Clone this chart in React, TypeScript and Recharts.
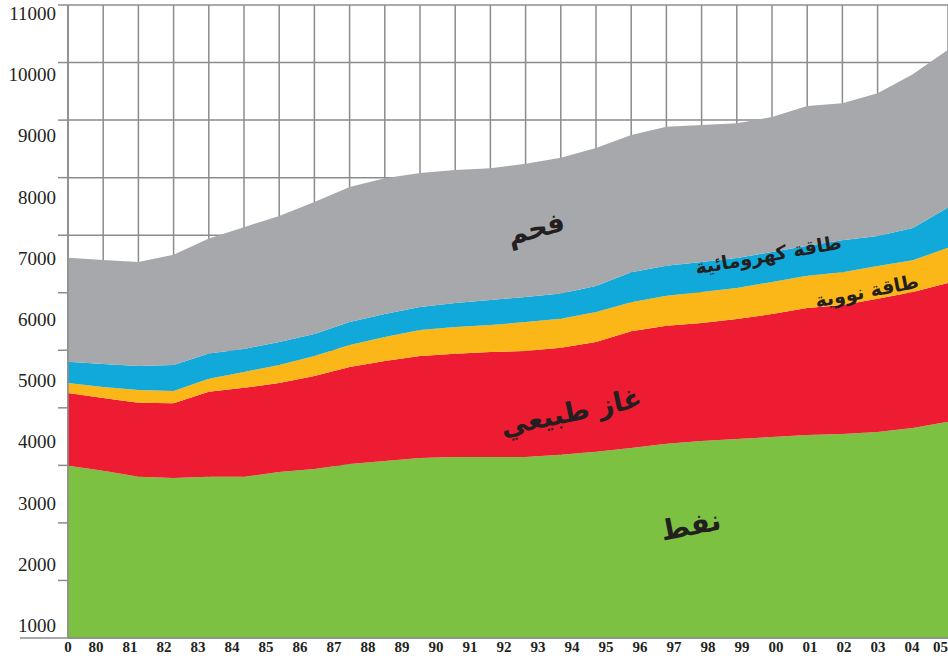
import React from "react";
import {
  AreaChart,
  Area,
  XAxis,
  YAxis,
  CartesianGrid,
  ReferenceDot,
} from "recharts";

const YEARS = [
  1980, 1981, 1982, 1983, 1984, 1985, 1986, 1987, 1988, 1989, 1990, 1991, 1992,
  1993, 1994, 1995, 1996, 1997, 1998, 1999, 2000, 2001, 2002, 2003, 2004, 2005,
];

// million tonnes oil equivalent
const OIL = [
  3600, 3520, 3420, 3400, 3420, 3420, 3500, 3550, 3630, 3680, 3730, 3745, 3745,
  3745, 3780, 3830, 3890, 3960, 4005, 4040, 4070, 4105, 4120, 4155, 4220, 4320,
];
const GAS = [
  1190, 1190, 1210, 1225, 1390, 1455, 1455, 1520, 1585, 1635, 1665, 1685, 1715,
  1730, 1750, 1795, 1910, 1930, 1930, 1960, 2010, 2075, 2110, 2175, 2220, 2270,
];
const NUCLEAR = [
  165, 180, 210, 200, 215, 260, 295, 325, 360, 390, 425, 440, 440, 475, 475,
  490, 475, 490, 505, 505, 525, 525, 535, 535, 520, 575,
];
const HYDRO = [
  345, 375, 390, 425, 410, 375, 375, 360, 375, 375, 375, 390, 410, 410, 410,
  425, 490, 490, 490, 490, 490, 490, 520, 490, 525, 655,
];
const COAL = [
  1700, 1700, 1700, 1800, 1880, 1990, 2060, 2155, 2205, 2220, 2190, 2175, 2155,
  2175, 2220, 2255, 2240, 2270, 2240, 2205, 2205, 2285, 2240, 2335, 2515, 2580,
];

const Y_TICKS = [1000, 2000, 3000, 4000, 5000, 6000, 7000, 8000, 9000, 10000, 11000];
// the x labels sit on their own (slightly offset) scale in the original
const X_LABEL_START = 1979.18;
const X_TICKS = [
  X_LABEL_START, 1980, 1981, 1982, 1983, 1984, 1985, 1986, 1987, 1988, 1989,
  1990, 1991, 1992, 1993, 1994, 1995, 1996, 1997, 1998, 1999, 2000, 2001, 2002,
  2003, 2004, 2005,
];
// background grid, independent of the value scale
const GRID_ROWS = [0, 1, 2, 3, 4, 5, 6, 7, 8, 9, 10, 11];
const GRID_COLS = [
  0, 1, 2, 3, 4, 5, 6, 7, 8, 9, 10, 11, 12, 13, 14, 15, 16, 17, 18, 19, 20, 21,
  22, 23,
];

const NOTES = [
  { text: "فحم", year: 1993.3, value: 7450, size: 27, angle: 15 },
  { text: "طاقة كهرومائية", year: 1999.9, value: 7030, size: 19, angle: 10 },
  { text: "طاقة نووية", year: 2002.7, value: 6440, size: 19, angle: 11 },
  { text: "غاز طبيعي", year: 1994.3, value: 4450, size: 27, angle: 12 },
  { text: "نفط", year: 1997.7, value: 2600, size: 28, angle: 11 },
];

const data = YEARS.map((year, i) => ({
  year,
  oil: OIL[i],
  gas: GAS[i],
  nuclear: NUCLEAR[i],
  hydro: HYDRO[i],
  coal: COAL[i],
}));

const SERIES = [
  { key: "oil", color: "#7dc142" },
  { key: "gas", color: "#ed1c33" },
  { key: "nuclear", color: "#fbb617" },
  { key: "hydro", color: "#10a9d9" },
  { key: "coal", color: "#a7a8ac" },
];

const GRID = "#8c8c8c";
const INK = "#231f20";

const YTick = ({ x, y, payload }: any) => (
  <text
    x={x - 12}
    y={y}
    dy={7}
    textAnchor="end"
    fontFamily="'Liberation Serif', serif"
    fontSize={19}
    fill={INK}
  >
    {payload.value}
  </text>
);

const XTick = ({ x, y, payload }: any) => {
  const v = payload.value;
  const label = v < 1980 ? "0" : String(v).slice(2);
  const last = v === 2005;
  return (
    <text
      x={last ? x + 2 : x}
      y={y + 14}
      textAnchor={last ? "end" : "middle"}
      fontFamily="'Liberation Serif', serif"
      fontWeight="bold"
      fontSize={15}
      fill={INK}
    >
      {label}
    </text>
  );
};

const GridTick = ({ x, y, payload }: any) =>
  payload.value === 0 ? (
    <line x1={x - 38} x2={x} y1={y} y2={y} stroke={GRID} strokeWidth={1.5} />
  ) : (
    <g />
  );

export default function App() {
  return (
    <div style={{ position: "absolute", left: 0, top: 0 }}>
      <AreaChart
        width={948}
        height={660}
        data={data}
        margin={{ top: 5, right: 0, bottom: 0, left: 0 }}
      >
        <CartesianGrid
          xAxisId="gx"
          yAxisId="g"
          stroke={GRID}
          strokeWidth={1.5}
        />
        <XAxis
          xAxisId="lab"
          dataKey="year"
          type="number"
          domain={[X_LABEL_START, 2005.06]}
          allowDataOverflow
          ticks={X_TICKS}
          interval={0}
          height={22}
          tickSize={0}
          tickMargin={0}
          tickLine={false}
          axisLine={{ stroke: GRID, strokeWidth: 1.5 }}
          tick={<XTick />}
        />
        <XAxis
          xAxisId="gx"
          type="number"
          domain={[0, 23.9]}
          allowDataOverflow
          ticks={GRID_COLS}
          height={0}
          hide
        />
        <XAxis
          xAxisId="d"
          dataKey="year"
          type="number"
          domain={[1980, 2005]}
          allowDataOverflow
          height={0}
          hide
        />
        <YAxis
          yAxisId="g"
          type="number"
          domain={[0, 11]}
          allowDataOverflow
          ticks={GRID_ROWS}
          interval={0}
          width={68}
          tickSize={10}
          tickMargin={0}
          tickLine={{ stroke: GRID, strokeWidth: 1.5 }}
          axisLine={{ stroke: GRID, strokeWidth: 1.5 }}
          tick={<GridTick />}
        />
        <YAxis
          yAxisId="v"
          type="number"
          domain={[787, 11131]}
          allowDataOverflow
          ticks={Y_TICKS}
          interval={0}
          mirror
          tickSize={0}
          tickMargin={0}
          tickLine={false}
          axisLine={false}
          tick={<YTick />}
        />
        {SERIES.map((s) => (
          <Area
            key={s.key}
            xAxisId="d"
            yAxisId="v"
            dataKey={s.key}
            stackId="energy"
            type="linear"
            stroke="none"
            fill={s.color}
            fillOpacity={1}
            isAnimationActive={false}
          />
        ))}
        {NOTES.map((n) => (
          <ReferenceDot
            key={n.text}
            xAxisId="d"
            yAxisId="v"
            x={n.year}
            y={n.value}
            r={0}
            shape={(p: any) => (
              <text
                x={p.cx}
                y={p.cy}
                textAnchor="middle"
                dominantBaseline="middle"
                transform={`rotate(${-n.angle} ${p.cx} ${p.cy})`}
                fontFamily="'DejaVu Sans', sans-serif"
                fontWeight="bold"
                fontSize={n.size}
                fill={INK}
              >
                {n.text}
              </text>
            )}
          />
        ))}
      </AreaChart>
    </div>
  );
}
